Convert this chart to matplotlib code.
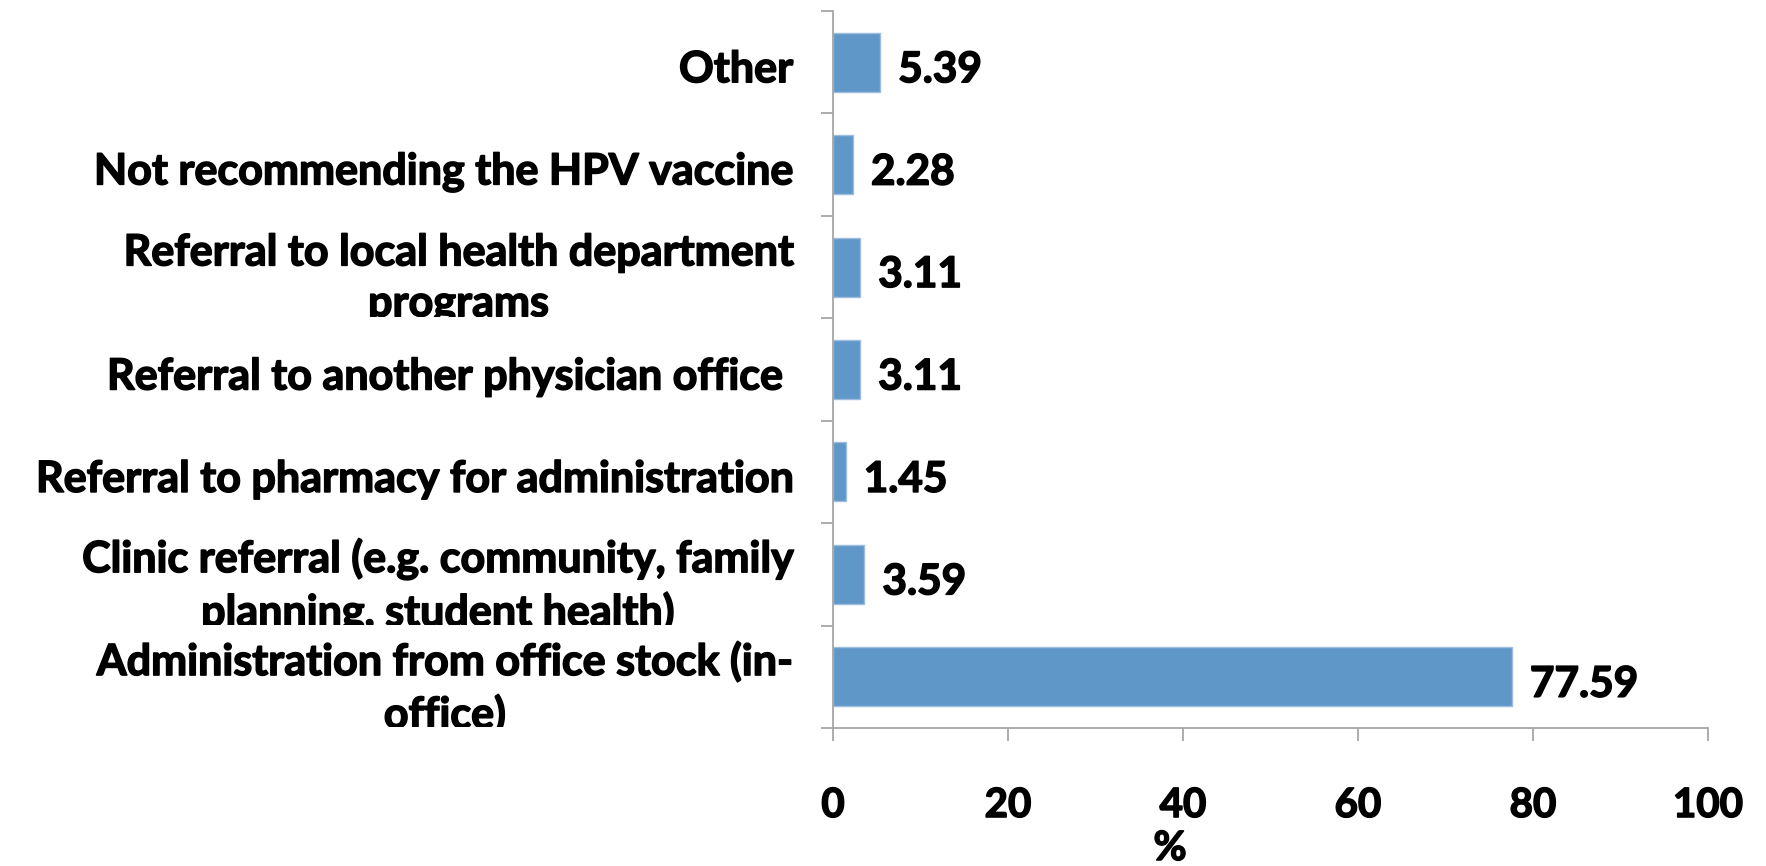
import matplotlib
matplotlib.use("Agg")
import matplotlib.pyplot as plt
import matplotlib.font_manager as fm
import matplotlib.patheffects as pe
from matplotlib.transforms import Bbox

categories = [
    "Other",
    "Not recommending the HPV vaccine",
    "Referral to local health department\nprograms",
    "Referral to another physician office ",
    "Referral to pharmacy for administration",
    "Clinic referral (e.g. community, family\nplanning, student health)",
    "Administration from office stock (in-\noffice)",
]
values = [5.39, 2.28, 3.11, 3.11, 1.45, 3.59, 77.59]
value_labels = ["5.39", "2.28", "3.11", "3.11", "1.45", "3.59", "77.59"]
xticks = [0, 20, 40, 60, 80, 100]
xlabel = "%"


def pick(cands):
    for c in cands:
        try:
            fm.findfont(fm.FontProperties(family=c, weight="bold"), fallback_to_default=False)
            return c
        except Exception:
            pass
    return "DejaVu Sans"


font = pick(["Lato", "DejaVu Sans"])
weight = "bold"
heavy = [pe.withStroke(linewidth=1.1, foreground="black")]

W, H = 1766, 866
fig = plt.figure(figsize=(W / 100, H / 100), dpi=100)
ax = fig.add_axes([833 / W, 1 - 728 / H, (1708 - 833) / W, (728 - 11) / H])

n = len(categories)
pos = list(range(n))
ax.barh(pos, values, height=0.575, color="#6097C9", edgecolor="#9CBDE0", linewidth=1)
ax.set_xlim(0, 100)
ax.set_ylim(n - 0.5, -0.5)

grey = "#A6A6A6"
for s in ["top", "right"]:
    ax.spines[s].set_visible(False)
for s in ["left", "bottom"]:
    ax.spines[s].set_color(grey)
    ax.spines[s].set_linewidth(1.3)

ax.set_yticks([i - 0.5 for i in range(n + 1)])
ax.set_yticklabels([])
ax.tick_params(axis="y", length=9, width=1.3, color=grey, direction="out")
ax.set_xticks(xticks)
ax.set_xticklabels([str(t) for t in xticks], fontsize=29, fontweight=weight,
                   family=font)
for t in ax.get_xticklabels():
    t.set_path_effects(heavy)
ax.tick_params(axis="x", length=9.5, width=1.3, color=grey, direction="out", pad=33)

# value labels
for i, (v, lab) in enumerate(zip(values, value_labels)):
    ax.annotate(lab, xy=(v, i), xytext=(18, -8), textcoords="offset pixels",
                ha="left", va="center", fontsize=30.5, fontweight=weight, family=font,
                path_effects=heavy)

# category labels, calibrated to the reference width
renderer = fig.canvas.get_renderer()
probe = fig.text(0, 0, "Referral to pharmacy for administration", fontsize=30,
                 fontweight=weight, family=font)
wpx = probe.get_window_extent(renderer).width
probe.remove()
cat_size = min(30 * 777 / wpx, 31)

x_right = 793
for i, lab in enumerate(categories):
    yc = ax.transData.transform((0, i))[1]
    ytop = ax.transData.transform((0, i - 0.5))[1]
    ybot = ax.transData.transform((0, i + 0.5))[1]
    off = -7 if "\n" not in lab else -11
    t = fig.text(x_right / W, (yc + off) / H, lab, ha="right", va="center",
                 multialignment="center", fontsize=cat_size, fontweight=weight,
                 family=font, linespacing=1.33, path_effects=heavy)
    t.set_clip_box(Bbox.from_extents(0, min(ytop, ybot) + 1, 833, max(ytop, ybot)))
    t.set_clip_on(True)

fig.text(1170 / W, 1 - 830 / H, xlabel, ha="center", va="top", fontsize=29,
         fontweight=weight, family=font, path_effects=heavy)

fig.savefig("out.png", dpi=100)
